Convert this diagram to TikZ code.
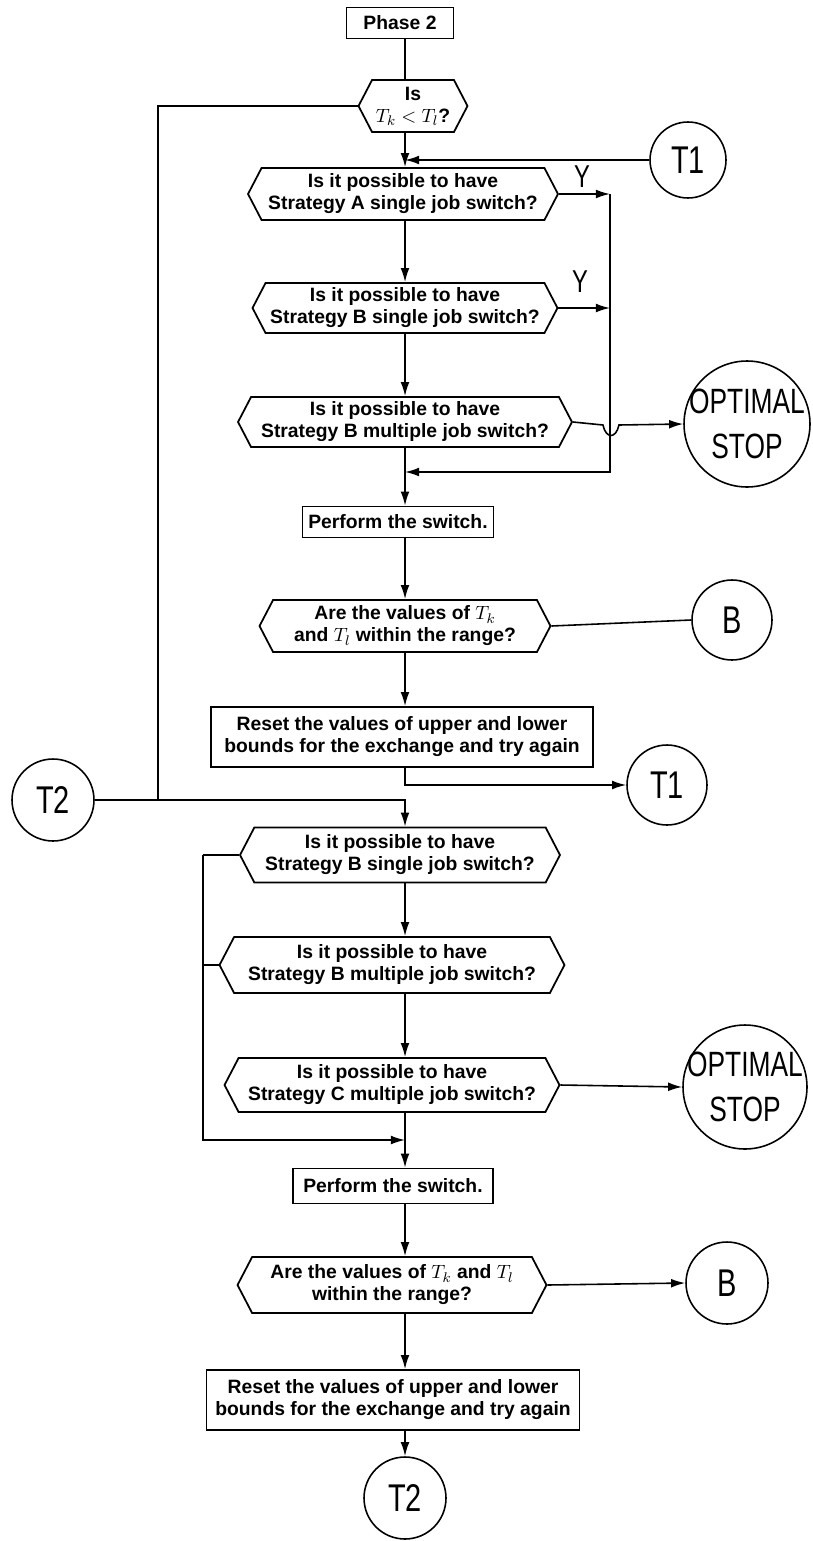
\documentclass[tikz,border=0pt]{standalone}
\usepackage{fontspec}
\setmainfont{Liberation Sans}
\newfontfamily\handfont[FakeStretch=0.75]{Liberation Sans}
\usetikzlibrary{shapes.symbols,arrows.meta}
\tikzset{
  box/.style={draw, line width=1pt, font=\bfseries\fontsize{11}{12.5}\selectfont, align=center, inner sep=2pt},
  hexa/.style={box, signal, signal to=east and west, signal pointer angle=125},
  conn/.style={circle, draw, line width=0.9pt, inner sep=0pt, align=center, font=\handfont\fontsize{22}{22}\selectfont},
  stopper/.style={conn, inner sep=-8pt, font=\handfont\fontsize{20}{26}\selectfont},
  yes/.style={font=\handfont\fontsize{18}{18}\selectfont},
  link/.style={line width=0.9pt},
  flow/.style={link, -{Latex[length=8pt,width=5pt]}},
}
\begin{document}
\begin{tikzpicture}[x=0.02cm,y=-0.02cm]
      \useasboundingbox (0,0) rectangle (812,1541);
      \coordinate (spine) at (405,0);
      \draw
        (400,23) node[box, minimum width=2.14cm, minimum height=0.62cm] (phase) {Phase 2}
        (413,106) node[hexa, minimum width=2.18cm, minimum height=1.04cm] (qTk) {Is\\$T_k < T_l$?}
        (688,160) node[conn, minimum size=1.52cm] (T1a) {T1}
        (403,194) node[hexa, minimum width=6.2cm, minimum height=1.04cm] (hA) {Is it possible to have\\Strategy A single job switch?}
        (405,308) node[hexa, minimum width=6.1cm, minimum height=1.0cm] (hB1) {Is it possible to have\\Strategy B single job switch?}
        (405,422) node[hexa, minimum width=6.68cm, minimum height=1.0cm] (hB2) {Is it possible to have\\Strategy B multiple job switch?}
        (747,424) node[stopper, minimum size=2.52cm] (opt1) {OPTIMAL\\STOP}
        (398,522) node[box, minimum width=3.82cm, minimum height=0.62cm] (perf1) {Perform the switch.}
        (405,626) node[hexa, minimum width=5.82cm, minimum height=1.04cm] (hR1) {Are the values of $T_k$\\and $T_l$ within the range?}
        (732,620) node[conn, minimum size=1.6cm] (B1) {B}
        (402,737) node[box, minimum width=7.64cm, minimum height=1.2cm] (reset1) {Reset the values of upper and lower\\bounds for the exchange and try again}
        (667,785) node[conn, minimum size=1.6cm] (T1b) {T1}
        (53,800) node[conn, minimum size=1.64cm] (T2a) {T2}
        (400,855) node[hexa, minimum width=6.4cm, minimum height=1.1cm] (hC1) {Is it possible to have\\Strategy B single job switch?}
        (392,965) node[hexa, minimum width=6.9cm, minimum height=1.12cm] (hC2) {Is it possible to have\\Strategy B multiple job switch?}
        (392,1085) node[hexa, minimum width=6.7cm, minimum height=1.08cm] (hC3) {Is it possible to have\\Strategy C multiple job switch?}
        (745,1087) node[stopper, minimum size=2.48cm] (opt2) {OPTIMAL\\STOP}
        (393,1186) node[box, minimum width=4cm, minimum height=0.7cm] (perf2) {Perform the switch.}
        (392,1285) node[hexa, minimum width=6.18cm, minimum height=1.12cm] (hD) {Are the values of $T_k$ and $T_l$\\within the range?}
        (727,1283) node[conn, minimum size=1.64cm] (B2) {B}
        (393,1400) node[box, minimum width=7.46cm, minimum height=1.2cm] (reset2) {Reset the values of upper and lower\\bounds for the exchange and try again}
        (405,1498) node[conn, minimum size=1.64cm] (T2b) {T2}
        (582,177) node[yes] (ya) {Y}
        (580,282) node[yes] (yb) {Y};
      \coordinate (railtop) at (610,194);
      \coordinate (railbot) at (610,472);
      \coordinate (loopbot) at (158,800);
      \coordinate (lrtop) at (203,855);
      \coordinate (lrbot) at (203,1140);
      % first pass
      \begin{scope}[link]
        \draw (phase.south -| spine) to (qTk.north -| spine);
        \draw[flow] (qTk.south -| spine) to (hA.north -| spine);
        \draw[flow] (T1a.west) to (T1a.west -| spine);
        \draw[flow] (hA.south -| spine) to (hB1.north -| spine);
        \draw[flow] (hB1.south -| spine) to (hB2.north -| spine);
        \draw[flow] (hA.east) to (hA.east -| railtop);
        \draw[flow] (hB1.east) to (hB1.east -| railtop);
        \draw[flow] (railtop) -- (railbot) -- (railbot -| spine);
        \draw[flow] (hB2.east) -- ++(30,3) .. controls +(3,14) and +(-3,14) .. ++(16,0) -- (opt1.west);
        \draw[flow] (hB2.south -| spine) to (perf1.north -| spine);
        \draw[flow] (perf1.south -| spine) to (hR1.north -| spine);
        \draw (hR1.east) to (B1.west);
        \draw[flow] (hR1.south -| spine) to (reset1.north -| spine);
        \draw[flow] (reset1.south -| spine) |- (T1b.west);
        \draw (qTk.west) -| (loopbot);
      \end{scope}
      % second pass
      \begin{scope}[link]
        \draw[flow] (T2a.east) -| (hC1.north -| spine);
        \draw[flow] (hC1.south -| spine) to (hC2.north -| spine);
        \draw[flow] (hC2.south -| spine) to (hC3.north -| spine);
        \draw (hC1.west) to (hC1.west -| lrtop);
        \draw (hC2.west) to (hC2.west -| lrtop);
        \draw[flow] (lrtop) -- (lrbot) -- (lrbot -| spine);
        \draw[flow] (hC3.east) to (opt2.west);
        \draw[flow] (hC3.south -| spine) to (perf2.north -| spine);
        \draw[flow] (perf2.south -| spine) to (hD.north -| spine);
        \draw[flow] (hD.east) to (B2.west);
        \draw[flow] (hD.south -| spine) to (reset2.north -| spine);
        \draw[flow] (reset2.south -| spine) to (T2b.north);
      \end{scope}
    \end{tikzpicture}
\end{document}
